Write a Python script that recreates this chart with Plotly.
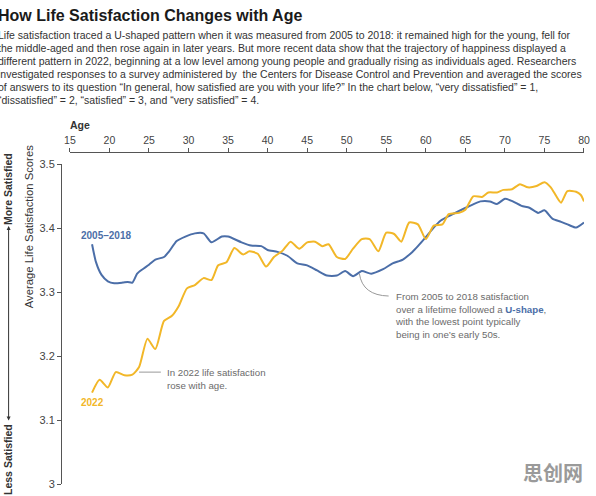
import plotly.graph_objects as go

# --- data ---
ages_0518 = [17.8, 18.3, 19.0, 19.8, 20.6, 21.7, 22.3, 22.9, 23.5, 24.2, 25.0, 25.8, 26.9,
             27.5, 28.5, 29.6, 30.8, 31.9, 32.9, 34.2, 35.0, 36.7, 37.9, 39.2, 40.0, 41.25,
             42.5, 43.75, 45.0, 46.25, 47.5, 48.75, 49.8, 50.8, 51.9, 53.1, 54.6, 55.8, 57.1,
             58.3, 59.0, 60.0, 61.0, 61.9, 62.9, 64.2, 65.4, 66.9, 68.1, 69.0, 70.0, 71.0,
             72.1, 73.1, 74.2, 75.0, 76.0, 77.1, 78.1, 79.0, 80.0]
score_0518 = [3.375, 3.347, 3.327, 3.317, 3.314, 3.315, 3.316, 3.315, 3.329, 3.336, 3.343,
              3.351, 3.355, 3.363, 3.380, 3.387, 3.392, 3.392, 3.378, 3.387, 3.387, 3.378,
              3.373, 3.372, 3.366, 3.363, 3.357, 3.345, 3.342, 3.334, 3.326, 3.326, 3.333,
              3.325, 3.333, 3.329, 3.336, 3.345, 3.351, 3.363, 3.372, 3.386, 3.401, 3.412,
              3.419, 3.427, 3.434, 3.442, 3.442, 3.438, 3.446, 3.442, 3.435, 3.432, 3.424,
              3.428, 3.415, 3.410, 3.405, 3.401, 3.409]

ages_2022 = [17.8, 18.75, 19.8, 20.8, 21.9, 22.9, 23.75, 24.8, 25.8, 26.9, 27.9, 28.75, 29.8,
             30.8, 31.9, 32.9, 33.75, 34.8, 35.8, 36.9, 37.7, 38.75, 39.8, 40.8, 41.9, 42.9,
             44.0, 45.0, 46.0, 46.9, 47.7, 48.75, 49.8, 50.8, 51.9, 52.9, 54.0, 55.0, 56.0,
             56.9, 57.9, 59.0, 60.0, 61.0, 62.1, 62.9, 64.2, 65.0, 66.0, 67.1, 67.9, 69.0,
             69.8, 70.9, 71.9, 72.9, 74.0, 75.0, 75.8, 76.5, 77.1, 77.9, 79.0, 79.6, 80.0]
score_2022 = [3.143, 3.163, 3.151, 3.175, 3.170, 3.171, 3.183, 3.227, 3.211, 3.255, 3.263,
              3.278, 3.306, 3.311, 3.322, 3.319, 3.342, 3.347, 3.369, 3.359, 3.364, 3.360,
              3.340, 3.355, 3.365, 3.379, 3.368, 3.378, 3.379, 3.372, 3.375, 3.355, 3.352,
              3.368, 3.383, 3.383, 3.364, 3.393, 3.391, 3.379, 3.409, 3.406, 3.383, 3.404,
              3.406, 3.422, 3.424, 3.429, 3.450, 3.449, 3.456, 3.456, 3.460, 3.461, 3.469,
              3.464, 3.466, 3.472, 3.464, 3.450, 3.440, 3.458, 3.457, 3.452, 3.442]

x_ticks = [15, 20, 25, 30, 35, 40, 45, 50, 55, 60, 65, 70, 75, 80]
y_ticks = [3, 3.1, 3.2, 3.3, 3.4, 3.5]
y_tick_labels = ["3", "3.1", "3.2", "3.3", "3.4", "3.5"]

title = "How Life Satisfaction Changes with Age"
body_lines = [
    "Life satisfaction traced a U-shaped pattern when it was measured from 2005 to 2018: it remained high for the young, fell for",
    "the middle-aged and then rose again in later years. But more recent data show that the trajectory of happiness displayed a",
    "different pattern in 2022, beginning at a low level among young people and gradually rising as individuals aged. Researchers",
    "investigated responses to a survey administered by  the Centers for Disease Control and Prevention and averaged the scores",
    "of answers to its question \u201cIn general, how satisfied are you with your life?\u201d In the chart below, \u201cvery dissatisfied\u201d = 1,",
    "\u201cdissatisfied\u201d = 2, \u201csatisfied\u201d = 3, and \u201cvery satisfied\u201d = 4.",
]

BLUE = "#4b6ea8"
GOLD = "#f2b728"
GREY = "#6b6b6b"
SANS = "Liberation Sans, Arial, sans-serif"

# plot area in pixels: left 61, right 590, top 152, bottom 489
def px(X):
    return (X - 61) / 529


def py(Y):
    return (489 - Y) / 337


fig = go.Figure()

fig.add_trace(go.Scatter(
    x=ages_0518, y=score_0518, mode="lines", name="2005–2018",
    line=dict(color=BLUE, width=2, shape="spline", smoothing=0.6),
    hoverinfo="skip",
))
fig.add_trace(go.Scatter(
    x=ages_2022, y=score_2022, mode="lines", name="2022",
    line=dict(color=GOLD, width=2, shape="spline", smoothing=0.6),
    hoverinfo="skip",
))

# connector lines for the callouts
fig.add_shape(type="line", x0=23.75, y0=3.175, x1=26.5, y1=3.175,
              line=dict(color="#999999", width=1))
fig.add_shape(type="path", path="M 51.6,3.329 Q 52.0,3.295 55.3,3.294",
              line=dict(color="#999999", width=1))

ann = []
ann.append(dict(xref="paper", yref="paper", x=px(-5), y=py(13),
                xanchor="left", yanchor="middle", showarrow=False,
                text=f"<b>{title}</b>",
                font=dict(family=SANS, size=16, color="#1a1a1a")))
for i, line in enumerate(body_lines):
    ann.append(dict(xref="paper", yref="paper", x=px(-5), y=py(33.5 + 13.2 * i),
                    xanchor="left", yanchor="middle", showarrow=False,
                    text=line, font=dict(family=SANS, size=10.5, color="#333333")))
ann.append(dict(xref="paper", yref="paper", x=px(68), y=py(125),
                xanchor="left", yanchor="middle", showarrow=False,
                text="<b>Age</b>", font=dict(family=SANS, size=10.5, color="#333333")))
ann.append(dict(x=16.2, y=3.388, xanchor="left", yanchor="middle", showarrow=False,
                text="<b>2005–2018</b>", font=dict(family=SANS, size=10, color=BLUE)))
ann.append(dict(x=16.2, y=3.128, xanchor="left", yanchor="middle", showarrow=False,
                text="<b>2022</b>", font=dict(family=SANS, size=10, color=GOLD)))
ann.append(dict(x=27.0, y=3.175, xanchor="left", yanchor="top", yshift=7,
                showarrow=False, align="left",
                text="In 2022 life satisfaction<br>rose with age.",
                font=dict(family=SANS, size=9.7, color=GREY)))
ann.append(dict(x=55.9, y=3.294, xanchor="left", yanchor="top", yshift=7,
                showarrow=False, align="left",
                text=("From 2005 to 2018 satisfaction<br>"
                      f"over a lifetime followed a <b><span style='color:{BLUE}'>U-shape</span></b>,<br>"
                      "with the lowest point typically<br>"
                      "being in one\u2019s early 50s."),
                font=dict(family=SANS, size=9.7, color=GREY)))
ann.append(dict(xref="paper", yref="paper", x=px(28), y=py(228),
                xanchor="center", yanchor="middle", showarrow=False, textangle=-90,
                text="Average Life Satisfaction Scores",
                font=dict(family=SANS, size=11.3, color="#333333")))
ann.append(dict(xref="paper", yref="paper", x=px(8), y=py(190),
                xanchor="center", yanchor="middle", showarrow=False, textangle=-90,
                text="<b>More Satisfied</b>",
                font=dict(family=SANS, size=10.5, color="#333333")))
ann.append(dict(xref="paper", yref="paper", x=px(8), y=py(464),
                xanchor="center", yanchor="middle", showarrow=False, textangle=-90,
                text="<b>Less Satisfied</b>",
                font=dict(family=SANS, size=10.5, color="#333333")))
# double headed arrow between the two labels
ann.append(dict(xref="paper", yref="paper", x=px(8), y=py(227),
                ax=0, ay=196, text="", showarrow=True, arrowhead=2, arrowsize=0.8,
                arrowwidth=1, arrowcolor="#333333", arrowside="end+start"))
ann.append(dict(xref="paper", yref="paper", x=px(591), y=py(477),
                xanchor="right", yanchor="middle", showarrow=False,
                text="<b>思创网</b>",
                font=dict(family="Noto Sans CJK SC", size=20, color="#9a9a9a")))

fig.update_layout(
    width=596, height=496,
    margin=dict(l=61, r=6, t=152, b=7),
    paper_bgcolor="white", plot_bgcolor="white",
    showlegend=False,
    annotations=ann,
    xaxis=dict(
        range=[15, 80], domain=[px(70), 1], side="top", anchor="free", position=1,
        tickvals=x_ticks, ticks="outside", ticklen=4, tickcolor="#555555",
        showline=True, linecolor="#555555", linewidth=1, showgrid=False, zeroline=False,
        tickfont=dict(family=SANS, size=10.5, color="#444444"),
    ),
    yaxis=dict(
        range=[3, 3.5], domain=[0, py(164.5)], anchor="free", position=0,
        tickvals=y_ticks, ticktext=y_tick_labels, ticks="outside", ticklen=4,
        tickcolor="#555555", showline=True, linecolor="#555555", linewidth=1,
        showgrid=False, zeroline=False,
        tickfont=dict(family=SANS, size=11, color="#444444"),
    ),
)

fig.write_html("out.html", config={"displayModeBar": False},
               post_script="document.body.style.margin = '0px';")
